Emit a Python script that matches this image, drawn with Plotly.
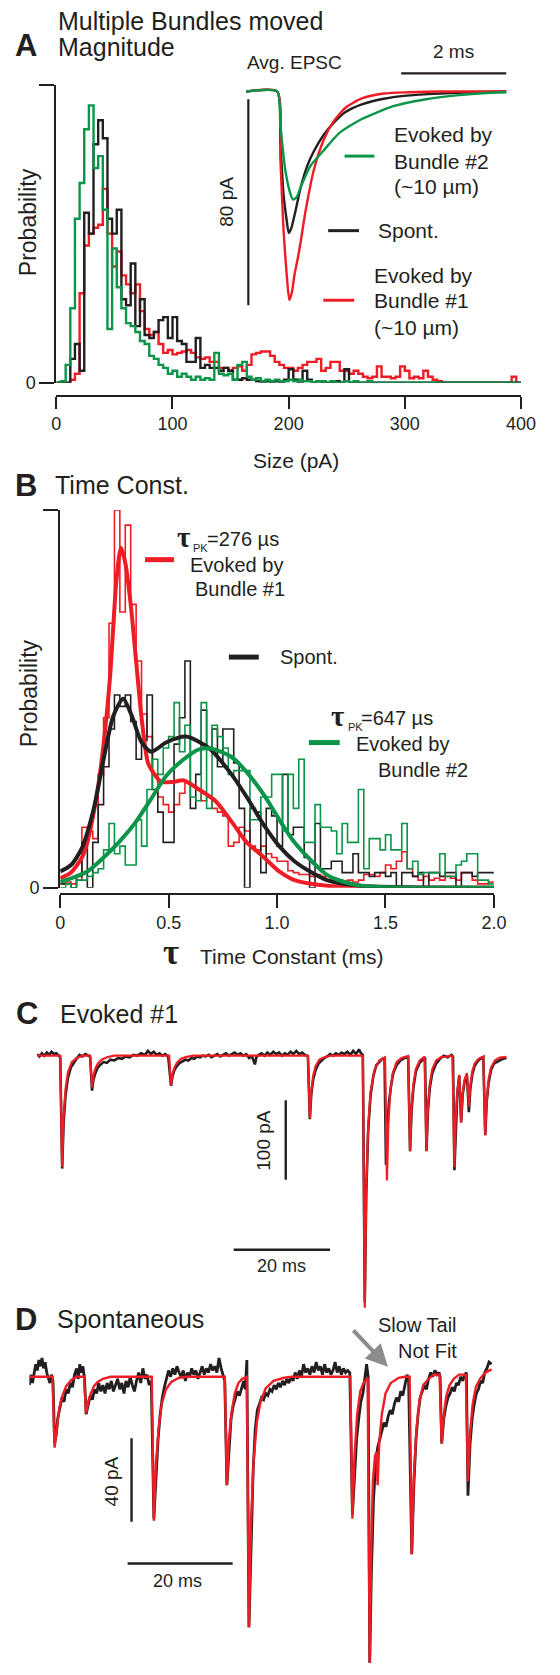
import plotly.graph_objects as go

# The page body adds an 8 px margin; the figure is sized and offset so that the
# screenshot of the 560x1675 window lines up with the reference.
W, H = 560, 1675
OFF = 8
FIG_W, FIG_H = W - OFF, H - OFF
FONT = "Liberation Sans, Arial, Helvetica, sans-serif"
SERIF = "Liberation Serif, Times New Roman, serif"
INK = "#231f20"
RED = "#ee1c24"
GREEN = "#0a9548"
BLACK = "#231f20"

# ---------------- Panel A: magnitude histograms (4 pA bins, 0-400 pA) ----------------
A_BIN_W = 4
A_XTICKS = [0, 100, 200, 300, 400]
A_RED = [0, 0, 0, 1, 3, 30, 46, 50, 52, 53, 65, 50, 39, 44, 36, 33, 30, 33, 24, 18,
         16, 17, 13, 10, 11, 9.5, 10, 10.5, 11, 10, 8.5, 8, 8.5, 7, 7, 5, 5, 4, 5, 5.5,
         4, 6, 9.5, 10, 10.5, 10.5, 9, 7, 6, 5, 5, 4, 5, 6, 7, 7, 8, 4, 5, 7,
         7, 4, 4, 3, 4, 3, 2, 1.5, 2, 5.5, 2, 2, 1.5, 2, 5.5, 4, 1.5, 2, 1.5, 4,
         2, 1, 0.5, 0, 0, 0, 0, 0, 0, 0, 0, 0, 0, 0, 0, 0, 0, 0, 2, 0]
A_BLACK = [0, 0, 0, 8, 13, 4, 57, 50, 80, 88, 82, 55, 50, 58, 28, 26, 40, 19, 28, 16,
           15, 17, 21, 22, 15, 22, 14, 13, 7, 7, 15, 5, 6, 5, 5, 4, 5, 4, 1, 1,
           1.5, 1, 1, 0.5, 0, 0.5, 0, 0.5, 0, 1, 4.5, 1, 0, 4, 1, 0, 0.5, 0, 0, 0,
           0.5, 0, 4.5, 0, 0, 0, 0, 0, 0, 0, 0, 0, 0, 0, 0, 0, 0, 0, 0, 0,
           0, 0, 0, 0, 0, 0, 0, 0, 0, 0, 0, 0, 0, 0, 0, 0, 0, 0, 0, 0]
A_GREEN = [0, 0.5, 6, 25, 55, 67, 85, 93, 72, 76, 58, 18, 45, 32, 25, 20, 19, 17, 14, 13,
           9, 8, 6, 5, 3, 4, 2, 3, 2, 1, 2, 1, 1.5, 1, 10, 3, 2.5, 3, 1, 6,
           7, 2, 1, 1.5, 0.5, 1, 0.5, 1, 0.5, 0.5, 1, 0.5, 1, 0.5, 0.5, 0, 0.5, 0.5, 0, 0.5,
           0, 0, 0.5, 0, 0.5, 0, 0, 0.5, 0, 0, 0, 0, 0, 0, 0, 0, 0, 0, 0, 0,
           0, 0, 0, 0, 0, 0, 0, 0, 0, 0, 0, 0, 0, 0, 0, 0, 0, 0, 0, 0]

# ---------------- Panel A inset: average EPSCs (ms, pA) ----------------
INSET_GREEN = [(0, 0), (0.59, 0), (0.65, -13), (0.74, -30), (0.83, -39), (0.89, -42), (0.96, -41),
               (1.04, -37), (1.22, -29), (1.47, -23), (1.78, -16), (2.2, -10.7), (2.8, -5.7),
               (3.4, -3.1), (4.0, -1.5), (4.5, -0.7), (4.95, -0.3)]
INSET_BLACK = [(0, 0), (0.59, 0), (0.65, -20), (0.71, -40), (0.77, -50), (0.81, -55), (0.86, -53),
               (0.92, -48), (1.04, -37), (1.16, -29), (1.28, -23.5), (1.47, -17), (1.65, -12.5),
               (1.89, -8), (2.2, -5), (2.62, -2.8), (3.1, -1.5), (3.7, -0.8), (4.3, -0.3), (4.95, 0)]
INSET_RED = [(0, 0), (0.59, 0), (0.65, -26), (0.71, -54), (0.77, -71), (0.82, -81), (0.87, -78),
             (0.92, -71), (0.98, -65), (1.04, -58), (1.10, -50), (1.16, -43), (1.28, -31),
             (1.47, -19), (1.65, -12), (1.89, -6.3), (2.2, -2.7), (2.62, -0.8), (3.1, -0.3),
             (3.7, 0), (4.95, 0)]
INSET_SCALE_T = 2.0   # ms
INSET_SCALE_I = 80.0  # pA

# ---------------- Panel B: time-constant histograms (0.025 ms bins, 0-2 ms) ----------------
B_BIN_W = 0.025
B_XTICKS = [0, 0.5, 1.0, 1.5, 2.0]
B_XTICKTEXT = ["0", "0.5", "1.0", "1.5", "2.0"]
B_RED = [1, 1.5, 1, 2, 16, 15, 13, 30, 45, 70, 100, 73, 96, 75, 60, 46, 40, 30, 24, 22,
         20, 22, 25, 28, 27, 26, 23, 24, 21, 20, 19, 11, 12, 16, 15, 11, 10, 11, 9, 8,
         7, 7, 4.5, 4, 3.5, 3.5, 3, 3.5, 3, 2, 1.5, 2, 1.5, 2, 1.5, 2, 3.5, 3.5, 3, 4,
         6, 5, 7, 9.5, 5, 3, 2, 3, 2, 2.5, 2, 3, 2.5, 2, 4, 4, 2, 1, 1, 1.5]
B_BLACK = [1, 1, 0, 3, 12, 0, 12, 22, 32, 42, 51, 48, 51, 44, 34, 39, 51, 26, 20, 12,
           12, 38, 45, 60, 21, 30, 47, 37, 42, 32, 42, 42, 33, 21, 0, 21, 20, 4, 21, 19,
           11, 30, 14, 16, 16, 8, 0, 17, 5, 5, 7, 7, 4, 4, 9, 4, 4, 3, 4, 4,
           3, 4, 0, 4, 4, 3, 4, 0, 4, 4, 3, 4, 4, 0, 4, 4, 3, 4, 4, 4]
B_GREEN = [0, 1, 0, 2, 2, 3, 4, 5, 10, 17, 9, 11, 6, 6, 18, 11, 26, 34, 30, 37,
           40, 49, 36, 43, 24, 23, 49, 21, 43, 40, 37, 30, 31, 31, 31, 18, 18, 24, 24, 30,
           30, 15, 30, 21, 34, 12, 12, 22, 16, 16, 15, 9, 17, 12, 12, 26, 5, 13, 13, 10,
           14, 10, 10, 17, 5, 7, 3.5, 4, 4, 4, 9, 3, 3, 6, 7, 9, 9, 2, 2, 1]
B_FIT_RED_T = [0, 0.05, 0.1, 0.125, 0.17, 0.2, 0.23, 0.26, 0.28, 0.3, 0.325, 0.35, 0.375, 0.405,
               0.435, 0.465, 0.52, 0.57, 0.64, 0.715, 0.79, 0.86, 0.94, 1.01, 1.08, 1.23, 1.4, 1.6, 2.0]
B_FIT_RED = [2.5, 4, 8, 12, 25, 38, 56, 82, 90, 86, 75, 60, 45, 33,
             30, 28, 28, 28.4, 26, 23, 17.5, 12, 8, 4.3, 2, 0.5, 0.1, 0, 0]
B_FIT_BLACK_T = [0, 0.05, 0.1, 0.155, 0.2, 0.245, 0.29, 0.33, 0.375, 0.42, 0.49, 0.58, 0.685,
                 0.79, 0.86, 0.94, 1.01, 1.08, 1.16, 1.23, 1.38, 1.6, 2.0]
B_FIT_BLACK = [4.3, 6, 10.5, 21, 34, 45.5, 50, 45.5, 38.5, 36, 38.5, 40, 37,
               30, 24, 16.5, 11, 7, 4, 2, 0.5, 0.1, 0]
B_FIT_GREEN_T = [0, 0.125, 0.2, 0.27, 0.35, 0.42, 0.49, 0.57, 0.64, 0.7, 0.79, 0.86, 0.94,
                 1.01, 1.08, 1.16, 1.23, 1.3, 1.38, 1.5, 1.7, 2.0]
B_FIT_GREEN = [1.5, 4.3, 8, 12, 17.5, 23.6, 29.7, 34, 36.6, 36.8, 34.6, 30.6, 24.5,
               18, 12, 7, 3.4, 1.7, 0.6, 0.1, 0, 0]

# ---------------- Panel C: evoked trace (ms, pA) ----------------
C_FIT = [(0, 0), (4.8, 0), (5.2, -140), (5.5, -77), (5.9, -42), (6.4, -21), (7.2, -8), (8.2, -3), (9.5, 0),
         (11.0, 0), (11.4, -40), (11.7, -25), (12.1, -16), (12.6, -10), (13.4, -5), (14.5, -2), (16, 0),
         (27.4, 0), (27.8, -37), (28.1, -23), (28.5, -15), (29.0, -9), (29.8, -4), (31, -1.5), (32.5, 0),
         (56.2, 0), (56.6, -79), (56.9, -45), (57.3, -25), (57.8, -13), (58.6, -5), (59.6, -2), (61, 0),
         (67.6, 0), (68.0, -317), (68.3, -170), (68.7, -90), (69.2, -45), (70.0, -18), (71, -6), (72.2, -2),
         (72.6, -157), (72.9, -85), (73.3, -45), (73.8, -22), (74.6, -8), (75.6, -3), (77.0, -0.5),
         (77.4, -120), (77.7, -65), (78.1, -35), (78.6, -17), (79.4, -6), (80.4, -1.5),
         (80.8, -120), (81.1, -65), (81.5, -35), (82.0, -17), (82.8, -6), (83.8, -2), (86.2, 0),
         (86.6, -140), (86.9, -75), (87.2, -45), (87.6, -24),
         (88.0, -84), (88.3, -48), (88.7, -30), (89.2, -22),
         (89.6, -64), (89.9, -38), (90.3, -20), (90.8, -10), (91.6, -4), (92.6, -1),
         (93.0, -100), (93.3, -55), (93.7, -30), (94.2, -15), (95, -6), (96, -2.5), (97.4, -1.5)]
C_RAW = [(0, 2), (0.5, -1), (1.0, 3), (1.5, 0), (2.0, 4), (2.5, 1), (3.0, 5), (3.5, 2), (4.0, 3), (4.4, 0), (4.8, -2),
         (5.2, -142), (5.5, -85), (5.9, -50), (6.4, -28), (7.0, -15), (7.6, -9), (8.2, -4), (8.8, 1), (9.4, -1),
         (10.0, 2), (10.6, 0), (11.0, -1),
         (11.4, -44), (11.7, -30), (12.1, -22), (12.6, -15), (13.2, -11), (13.8, -8), (14.5, -9), (15.2, -5),
         (16.0, -6), (16.8, -3), (17.6, -4), (18.4, -1), (19.2, -2), (20.0, 1), (20.8, 0), (21.6, 3), (22.4, 1),
         (23.0, 6), (23.6, 2), (24.2, 5), (24.8, 1), (25.4, 3), (26.0, 0), (26.6, 2), (27.2, -1),
         (27.8, -38), (28.1, -26), (28.5, -18), (29.0, -13), (29.6, -9), (30.2, -7), (30.8, -5), (31.4, -6),
         (32.0, -3), (32.6, -4), (33.2, -1), (33.8, -2), (34.4, 0), (35.0, -1), (35.6, 1), (36.2, -2), (36.8, 0),
         (37.4, 2), (38.0, -1), (38.6, 1), (39.2, 3), (39.8, 0), (40.4, 2), (41.0, 4), (41.6, 1), (42.2, 3),
         (42.8, 0), (43.4, 2), (44.0, -3), (44.6, -1), (45.2, -11), (45.5, -2), (46.0, 1), (46.6, 3), (47.2, 0),
         (47.8, 4), (48.4, 1), (49.0, 5), (49.6, 2), (50.2, 4), (50.8, 0), (51.4, 3), (52.0, 1), (52.6, 5),
         (53.2, 2), (53.8, 6), (54.4, 2), (55.0, 4), (55.6, 1), (56.2, -1),
         (56.6, -80), (56.9, -48), (57.3, -30), (57.8, -18), (58.4, -10), (59.0, -6), (59.6, -3), (60.2, -1),
         (60.8, 2), (61.4, 0), (62.0, 3), (62.6, 1), (63.2, 4), (63.8, 2), (64.4, 5), (65.0, 1), (65.6, 6),
         (66.2, 2), (66.8, 8), (67.2, 3), (67.6, 1),
         (68.0, -310), (68.3, -175), (68.7, -95), (69.2, -50), (69.8, -25), (70.4, -12), (71.0, -8), (71.6, -4),
         (72.1, -3),
         (72.4, -137), (72.7, -90), (73.0, -60), (73.4, -40), (73.9, -22), (74.6, -12), (75.4, -6), (76.2, -3),
         (77.0, -2),
         (77.4, -120), (77.7, -70), (78.1, -40), (78.6, -20), (79.4, -9), (80.2, -4), (80.5, -2),
         (80.8, -120), (81.1, -70), (81.5, -40), (82.0, -22), (82.8, -10), (83.6, -4), (84.4, 0), (85.2, -2),
         (86.0, 1), (86.3, -1),
         (86.6, -144), (86.9, -80), (87.2, -48), (87.6, -25),
         (88.0, -84), (88.3, -50), (88.7, -33), (89.2, -25),
         (89.6, -71), (89.9, -42), (90.3, -24), (90.8, -13), (91.4, -7), (92.0, -4), (92.6, -2),
         (93.0, -100), (93.3, -58), (93.7, -34), (94.2, -18), (94.8, -10), (95.4, -8), (96.0, -5), (96.6, -4),
         (97.4, -3)]
C_SCALE_T = 20.0   # ms
C_SCALE_I = 100.0  # pA

# ---------------- Panel D: spontaneous trace (ms, pA) ----------------
D_FIT = [(0, 0), (4.4, 0), (4.8, -34), (5.2, -24), (5.7, -15), (6.3, -9), (7.0, -4.5), (8.0, -1.5), (9.0, 0),
         (10.4, 0), (10.8, -17.5), (11.2, -12), (11.7, -8), (12.3, -4.5), (13.0, -2.5), (14.0, -1), (15.5, 0),
         (23.3, 0), (23.7, -69), (24.1, -42), (24.6, -25), (25.2, -13), (26.0, -6), (27.0, -2.5), (28.5, -0.5),
         (30, 0),
         (37.2, 0), (37.6, -52), (38.0, -30), (38.5, -17), (39.1, -8), (39.8, -3), (40.5, -1), (41.4, 0),
         (41.8, -120), (42.2, -70), (42.7, -40), (43.3, -22), (44.0, -12), (45.0, -5.5), (46.5, -2),
         (48.5, -0.5), (50, 0),
         (61.1, 0), (61.5, -68), (61.9, -38), (62.4, -18), (63.0, -7), (63.6, -3), (64.4, -0.5),
         (64.8, -137), (65.1, -80), (65.4, -50), (65.8, -38), (66.1, -36), (66.3, -52), (66.6, -32),
         (67.1, -18), (67.8, -8), (68.8, -3), (70.3, -0.5), (71.5, 0),
         (72.4, 0), (72.8, -85), (73.2, -48), (73.7, -25), (74.3, -11), (75.0, -4), (76.0, -1), (77.0, 1),
         (78.1, 1), (78.5, -32), (78.9, -18), (79.4, -9), (80.0, -4), (80.8, -1), (81.8, 1), (83.1, 1),
         (83.5, -50), (83.9, -27), (84.4, -13), (85.0, -5), (85.8, -1), (86.8, 2), (88.0, 3.5)]
D_RAW = [(0, -4), (0.3, 1), (0.6, -3), (0.9, 2), (1.2, 6), (1.5, 3), (1.8, 8), (2.1, 5), (2.4, 9), (2.7, 4),
         (3.0, 7), (3.3, 2), (3.6, 0), (3.9, -3), (4.2, 1), (4.5, -2),
         (4.8, -32), (5.1, -28), (5.4, -20), (5.8, -14), (6.2, -10), (6.6, -12), (7.0, -6), (7.4, -8), (7.8, -3),
         (8.2, -5), (8.6, 1), (9.0, 4), (9.3, -1), (9.6, 6), (9.9, 2), (10.2, 5), (10.5, -1),
         (10.8, -18), (11.2, -14), (11.6, -9), (12.0, -11), (12.4, -6), (12.8, -8), (13.2, -3), (13.6, -7),
         (14.0, -4), (14.4, -8), (14.8, -3), (15.2, -6), (15.6, -2), (16.0, -7), (16.4, -4), (16.8, -1),
         (17.2, -6), (17.6, -3), (18.0, -8), (18.4, -2), (18.8, -5), (19.2, 0), (19.6, -4), (20.0, -7),
         (20.4, -2), (20.8, 2), (21.2, -3), (21.6, 4), (22.0, -1), (22.4, 1), (22.8, -4), (23.2, -2),
         (23.7, -68), (24.1, -45), (24.5, -30), (24.9, -18), (25.3, -10), (25.7, -5), (26.1, -1), (26.5, 3),
         (26.9, 0), (27.3, 4), (27.7, 1), (28.1, 5), (28.5, 2), (28.9, 0), (29.3, 3), (29.7, -2), (30.1, 2),
         (30.5, 0), (30.9, 4), (31.3, 1), (31.7, 3), (32.1, -1), (32.5, 2), (32.9, 5), (33.3, 1), (33.7, 4),
         (34.1, 2), (34.5, 6), (34.9, 3), (35.3, 5), (35.7, 2), (36.1, 9), (36.5, 4), (36.9, 1), (37.2, -2),
         (37.6, -52), (38.0, -33), (38.4, -20), (38.8, -14), (39.2, -10), (39.6, -7), (40.0, -9), (40.4, -5),
         (40.8, -2), (41.1, -6), (41.4, 8),
         (41.8, -120), (42.2, -75), (42.6, -45), (43.0, -25), (43.4, -16), (43.8, -13), (44.2, -10),
         (44.6, -11), (45.0, -8), (45.4, -9), (45.8, -6), (46.2, -7), (46.6, -4), (47.0, -6), (47.4, -3),
         (47.8, -5), (48.2, -2), (48.6, -4), (49.0, -1), (49.4, -3), (49.8, 0), (50.2, -2), (50.6, 2),
         (51.0, -1), (51.4, 3), (51.8, 0), (52.2, 6), (52.6, 2), (53.0, 4), (53.4, 1), (53.8, 5), (54.2, 2),
         (54.6, 7), (55.0, 3), (55.4, 5), (55.8, 1), (56.2, 6), (56.6, 2), (57.0, 4), (57.4, 1), (57.8, 3),
         (58.2, 7), (58.6, 2), (59.0, 5), (59.4, 1), (59.8, 4), (60.2, 2), (60.6, 3), (61.0, 2),
         (61.5, -66), (61.9, -45), (62.3, -30), (62.7, -20), (63.1, -12), (63.5, -8), (63.9, 2), (64.2, 6),
         (64.5, 0),
         (64.8, -137), (65.1, -95), (65.5, -60), (65.9, -42), (66.3, -34), (66.7, -30), (67.1, -26),
         (67.5, -22), (67.9, -24), (68.3, -19), (68.7, -16), (69.1, -18), (69.5, -13), (69.9, -10),
         (70.3, -12), (70.7, -7), (71.1, -9), (71.5, -4), (71.9, 1), (72.2, -2),
         (72.8, -85), (73.2, -52), (73.6, -30), (74.0, -18), (74.4, -10), (74.8, -7), (75.2, -4), (75.6, -6),
         (76.0, -1), (76.4, 2), (76.8, 0), (77.2, 3), (77.6, 1), (78.0, 2), (78.2, 0),
         (78.5, -32), (78.9, -20), (79.3, -14), (79.7, -10), (80.1, -8), (80.5, -5), (80.9, -7), (81.3, -3),
         (81.7, -4), (82.1, 0), (82.5, -2), (82.9, 1), (83.2, 2),
         (83.5, -57), (83.9, -32), (84.3, -20), (84.7, -13), (85.1, -8), (85.5, -6), (85.9, -2), (86.3, -3),
         (86.7, 2), (87.1, 4), (87.5, 7), (88.0, 6)]
D_SCALE_T = 20.0  # ms
D_SCALE_I = 40.0  # pA


# ---------------- helpers (layout only; page pixel -> paper fraction) ----------------
def fx(px):
    return (px - OFF) / FIG_W


def fy(py):
    return 1 - (py - OFF) / FIG_H


def xdom(p0, p1):
    return [fx(p0), fx(p1)]


def ydom(ptop, pbot):
    return [max(0.0, fy(pbot)), fy(ptop)]


def unzip(pairs):
    return [p[0] for p in pairs], [p[1] for p in pairs]


def step_xy(values, width):
    xs = [i * width for i in range(len(values) + 1)]
    ys = list(values) + [values[-1]]
    return xs, ys


fig = go.Figure()

# Panel A histograms
for vals, col in [(A_RED, RED), (A_BLACK, BLACK), (A_GREEN, GREEN)]:
    xs, ys = step_xy(vals, A_BIN_W)
    fig.add_trace(go.Scatter(x=xs, y=ys, mode="lines", line=dict(color=col, width=2.4, shape="hv"),
                             xaxis="x", yaxis="y", hoverinfo="skip"))

# Inset
for pairs, col in [(INSET_BLACK, BLACK), (INSET_RED, RED), (INSET_GREEN, GREEN)]:
    t, i = unzip(pairs)
    fig.add_trace(go.Scatter(x=t, y=i, mode="lines", line=dict(color=col, width=2.4, shape="spline", smoothing=0.6),
                             xaxis="x2", yaxis="y2", hoverinfo="skip"))
fig.add_trace(go.Scatter(x=[0.04, 0.04], y=[-3, -3 - INSET_SCALE_I], mode="lines",
                         line=dict(color=INK, width=2.2), xaxis="x2", yaxis="y2", hoverinfo="skip"))
fig.add_trace(go.Scatter(x=[4.95 - INSET_SCALE_T, 4.95], y=[7, 7], mode="lines",
                         line=dict(color=INK, width=2.2), xaxis="x2", yaxis="y2", hoverinfo="skip"))

# Panel B histograms and fits
for vals, col in [(B_RED, RED), (B_BLACK, BLACK), (B_GREEN, GREEN)]:
    xs, ys = step_xy(vals, B_BIN_W)
    fig.add_trace(go.Scatter(x=xs, y=ys, mode="lines", line=dict(color=col, width=1.6, shape="hv"),
                             xaxis="x3", yaxis="y3", hoverinfo="skip"))
for t, v, col in [(B_FIT_RED_T, B_FIT_RED, RED), (B_FIT_BLACK_T, B_FIT_BLACK, BLACK),
                  (B_FIT_GREEN_T, B_FIT_GREEN, GREEN)]:
    fig.add_trace(go.Scatter(x=t, y=v, mode="lines", line=dict(color=col, width=4, shape="spline", smoothing=0.7),
                             xaxis="x3", yaxis="y3", hoverinfo="skip"))

# Panel C
t, i = unzip(C_RAW)
fig.add_trace(go.Scatter(x=t, y=i, mode="lines", line=dict(color=BLACK, width=2.6), xaxis="x4", yaxis="y4",
                         hoverinfo="skip"))
t, i = unzip(C_FIT)
fig.add_trace(go.Scatter(x=t, y=i, mode="lines", line=dict(color=RED, width=2.2), xaxis="x4", yaxis="y4",
                         hoverinfo="skip"))
fig.add_trace(go.Scatter(x=[51.6, 51.6], y=[-56, -56 - C_SCALE_I], mode="lines", line=dict(color=INK, width=2.4),
                         xaxis="x4", yaxis="y4", hoverinfo="skip"))
fig.add_trace(go.Scatter(x=[40.8, 40.8 + C_SCALE_T], y=[-244, -244], mode="lines", line=dict(color=INK, width=2.4),
                         xaxis="x4", yaxis="y4", hoverinfo="skip"))

# Panel D
t, i = unzip(D_RAW)
fig.add_trace(go.Scatter(x=t, y=i, mode="lines", line=dict(color=BLACK, width=2.8), xaxis="x5", yaxis="y5",
                         hoverinfo="skip"))
t, i = unzip(D_FIT)
fig.add_trace(go.Scatter(x=t, y=i, mode="lines", line=dict(color=RED, width=2.4), xaxis="x5", yaxis="y5",
                         hoverinfo="skip"))
fig.add_trace(go.Scatter(x=[19.45, 19.45], y=[-29.5, -29.5 - D_SCALE_I], mode="lines",
                         line=dict(color=INK, width=2.4), xaxis="x5", yaxis="y5", hoverinfo="skip"))
fig.add_trace(go.Scatter(x=[18.7, 18.7 + D_SCALE_T], y=[-89.5, -89.5], mode="lines",
                         line=dict(color=INK, width=2.4), xaxis="x5", yaxis="y5", hoverinfo="skip"))

TICKFONT = dict(size=18, family=FONT, color=INK)
hidden = dict(visible=False, showgrid=False, zeroline=False)

layout = dict(
    width=FIG_W, height=FIG_H, margin=dict(l=0, r=0, t=0, b=0),
    paper_bgcolor="white", plot_bgcolor="rgba(0,0,0,0)", showlegend=False,
    font=dict(family=FONT, color=INK),
    # Panel A
    xaxis=dict(domain=xdom(53, 535), range=[0, 400], anchor="free", position=fy(398),
               showline=True, linecolor=INK, linewidth=2, ticks="outside", ticklen=12, tickwidth=2,
               tickcolor=INK, tickvals=A_XTICKS, ticktext=[str(v) for v in A_XTICKS], tickfont=TICKFONT,
               showgrid=False, zeroline=False),
    yaxis=dict(domain=ydom(85, 385), range=[0, 100], anchor="x", showline=True, linecolor=INK, linewidth=2,
               ticks="outside", ticklen=15, tickwidth=2, tickcolor=INK, tickvals=[0, 100], ticktext=["0", ""],
               tickfont=TICKFONT, showgrid=False, zeroline=False),
    # Inset (0 ms at x=250 px, 54.5 px/ms; 0 pA at y=92 px, 2.59 px/pA)
    xaxis2=dict(domain=xdom(250 - 54.5 * 0.1, 250 + 54.5 * 5.0), range=[-0.1, 5.0], anchor="y2", **hidden),
    yaxis2=dict(domain=ydom(92 - 2.59 * 12, 92 + 2.59 * 90), range=[-90, 12], anchor="x2", **hidden),
    # Panel B
    xaxis3=dict(domain=xdom(57, 507), range=[0, 2.0], anchor="free", position=fy(899),
                showline=True, linecolor=INK, linewidth=2, ticks="outside", ticklen=13, tickwidth=2,
                tickcolor=INK, tickvals=B_XTICKS, ticktext=B_XTICKTEXT, tickfont=TICKFONT,
                showgrid=False, zeroline=False),
    yaxis3=dict(domain=ydom(513, 893), range=[0, 100], anchor="x3", showline=True, linecolor=INK, linewidth=2,
                ticks="outside", ticklen=15, tickwidth=2, tickcolor=INK, tickvals=[0, 100], ticktext=["0", ""],
                tickfont=TICKFONT, showgrid=False, zeroline=False),
    # Panel C (0 ms at x=33, 5 px/ms; 0 pA at y=1062, 0.8 px/pA)
    xaxis4=dict(domain=xdom(33, 33 + 5 * 97.6), range=[0, 97.6], anchor="y4", **hidden),
    yaxis4=dict(domain=ydom(1062 - 0.8 * 20, 1062 + 0.8 * 330), range=[-330, 20], anchor="x4", **hidden),
    # Panel D (0 ms at x=25, 5.45 px/ms; 0 pA at y=1385, 2.1 px/pA)
    xaxis5=dict(domain=xdom(25, 25 + 5.45 * 88.5), range=[0, 88.5], anchor="y5", **hidden),
    yaxis5=dict(domain=ydom(1385 - 2.1 * 16, 1385 + 2.1 * 138), range=[-138, 16], anchor="x5", **hidden),
)
fig.update_layout(**layout)


def txt(s, x, y, size=20, anchor="left", angle=0, family=FONT):
    return dict(text=s, x=fx(x), y=fy(y), xref="paper", yref="paper", xanchor=anchor, yanchor="middle",
                showarrow=False, textangle=angle, font=dict(size=size, family=family, color=INK))


ann = [
    txt("Multiple Bundles moved", 53, 21, 25),
    txt("<b>A</b>", 8, 46, 31),
    txt("Magnitude", 53, 47, 25),
    txt("Probability", 23, 223, 23, "center", -90),
    txt("Size (pA)", 302, 463, 21, "center"),
    txt("Avg. EPSC", 249, 63, 19),
    txt("2 ms", 465, 52, 19, "center"),
    txt("80 pA", 230, 203, 19, "center", -90),
    txt("Evoked by", 401, 135, 21), txt("Bundle #2", 401, 162, 21), txt("(~10 µm)", 401, 188, 21),
    txt("Spont.", 385, 232, 21),
    txt("Evoked by", 380, 277, 21), txt("Bundle #1", 380, 302, 21), txt("(~10 µm)", 380, 329, 21),
    txt("<b>B</b>", 8, 488, 31),
    txt("Time Const.", 50, 488, 25),
    txt("Probability", 24, 697, 23, "center", -90),
    txt("<b>τ</b>", 176, 540, 29, "left", 0, SERIF),
    txt("PK", 193, 551, 11),
    txt("=276 µs", 207, 542, 20),
    txt("Evoked by", 190, 568, 20), txt("Bundle #1", 195, 593, 20),
    txt("Spont.", 283, 661, 20),
    txt("<b>τ</b>", 336, 720, 29, "left", 0, SERIF),
    txt("PK", 353, 731, 11),
    txt("=647 µs", 367, 722, 20),
    txt("Evoked by", 362, 748, 20), txt("Bundle #2", 385, 775, 20),
    txt("<b>τ</b>", 162, 958, 35, "left", 0, SERIF),
    txt("Time Constant (ms)", 200, 962, 21),
    txt("<b>C</b>", 9, 1020, 31),
    txt("Evoked #1", 55, 1020, 25),
    txt("100 pA", 268, 1147, 19, "center", -90),
    txt("20 ms", 287, 1274, 18, "center"),
    txt("<b>D</b>", 8, 1327, 31),
    txt("Spontaneous", 52, 1327, 25),
    txt("Slow Tail", 471, 1333, 20, "right"),
    txt("Not Fit", 471, 1359, 20, "right"),
    txt("40 pA", 110, 1490, 19, "center", -90),
    txt("20 ms", 179, 1590, 18, "center"),
    dict(text="", x=fx(397), y=fy(1375), xref="paper", yref="paper",
         axref="pixel", ayref="pixel", ax=361 - 397, ay=1337 - 1375,
         showarrow=True, arrowhead=2, arrowsize=1.1, arrowwidth=4, arrowcolor="#8c8c8c"),
]
fig.update_layout(annotations=ann)


def key(x0, x1, y, col, w):
    return dict(type="line", xref="paper", yref="paper", x0=fx(x0), x1=fx(x1), y0=fy(y), y1=fy(y),
                line=dict(color=col, width=w))


fig.update_layout(shapes=[
    key(352, 383, 157, GREEN, 3), key(335, 367, 232, BLACK, 3), key(330, 362, 302, RED, 3),
    key(145, 175, 563, RED, 5), key(232, 263, 661, BLACK, 5), key(315, 347, 747, GREEN, 5),
])

fig.write_html("out.html")
